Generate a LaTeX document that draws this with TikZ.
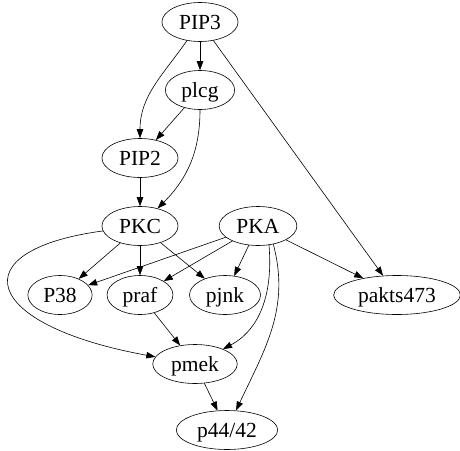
\documentclass[tikz,border=0pt]{standalone}
\usepackage{fontspec}
\setmainfont{Liberation Serif}
\usetikzlibrary{shapes.geometric, arrows.meta}

\begin{document}
\begin{tikzpicture}[x=1pt, y=1pt,
    prot/.style={ellipse, draw, line width=0.6pt, inner xsep=6pt, inner ysep=0pt,
        minimum height=39pt, text height=17pt, text depth=2pt,
        font=\fontsize{21.5}{24}\selectfont},
    link/.style={-{Triangle[length=9pt, width=6.5pt]}, line width=0.6pt}]

    \useasboundingbox (0,0) rectangle (460,-450);

    % Draw proteins
    \node[prot] (PIP3) at (200,-22) {PIP3};
    \node[prot] (plcg) at (200,-90) {plcg};
    \node[prot] (PIP2) at (140,-158) {PIP2};
    \node[prot] (PKC) at (140,-226) {PKC};
    \node[prot] (PKA) at (258,-226) {PKA};
    \node[prot] (P38) at (60,-295) {P38};
    \node[prot] (praf) at (140,-295) {praf};
    \node[prot] (pjnk) at (225,-295) {pjnk};
    \node[prot] (pakts473) at (397,-295) {pakts473};
    \node[prot] (pmek) at (195,-364) {pmek};
    \node[prot] (p4442) at (227,-430) {p44/42};

    % Links from the top
    \draw[link] (PIP3) -- (plcg);
    \draw[link] (PIP3) to[out=-125, in=90] (PIP2);
    \draw[link] (PIP3) -- (pakts473);
    \draw[link] (plcg) -- (PIP2);
    \draw[link] (plcg) to[out=-90, in=45] (PKC);
    \draw[link] (PIP2) -- (PKC);

    % Links from PKC
    \draw[link] (PKC) -- (P38);
    \draw[link] (PKC) -- (praf);
    \draw[link] (PKC) -- (pjnk);
    \draw[link] (PKC) .. controls (-40,-250) and (-20,-325) .. (pmek);

    % Links from PKA
    \draw[link] (PKA) -- (P38);
    \draw[link] (PKA) -- (praf);
    \draw[link] (PKA) -- (pjnk);
    \draw[link] (PKA) -- (pakts473);
    \draw[link] (PKA.-60) to[out=-85, in=28] (pmek);
    \draw[link] (PKA.-50) to[out=-75, in=65] (p4442);

    % Links to the bottom
    \draw[link] (praf) -- (pmek);
    \draw[link] (pmek) -- (p4442);

\end{tikzpicture}
\end{document}
